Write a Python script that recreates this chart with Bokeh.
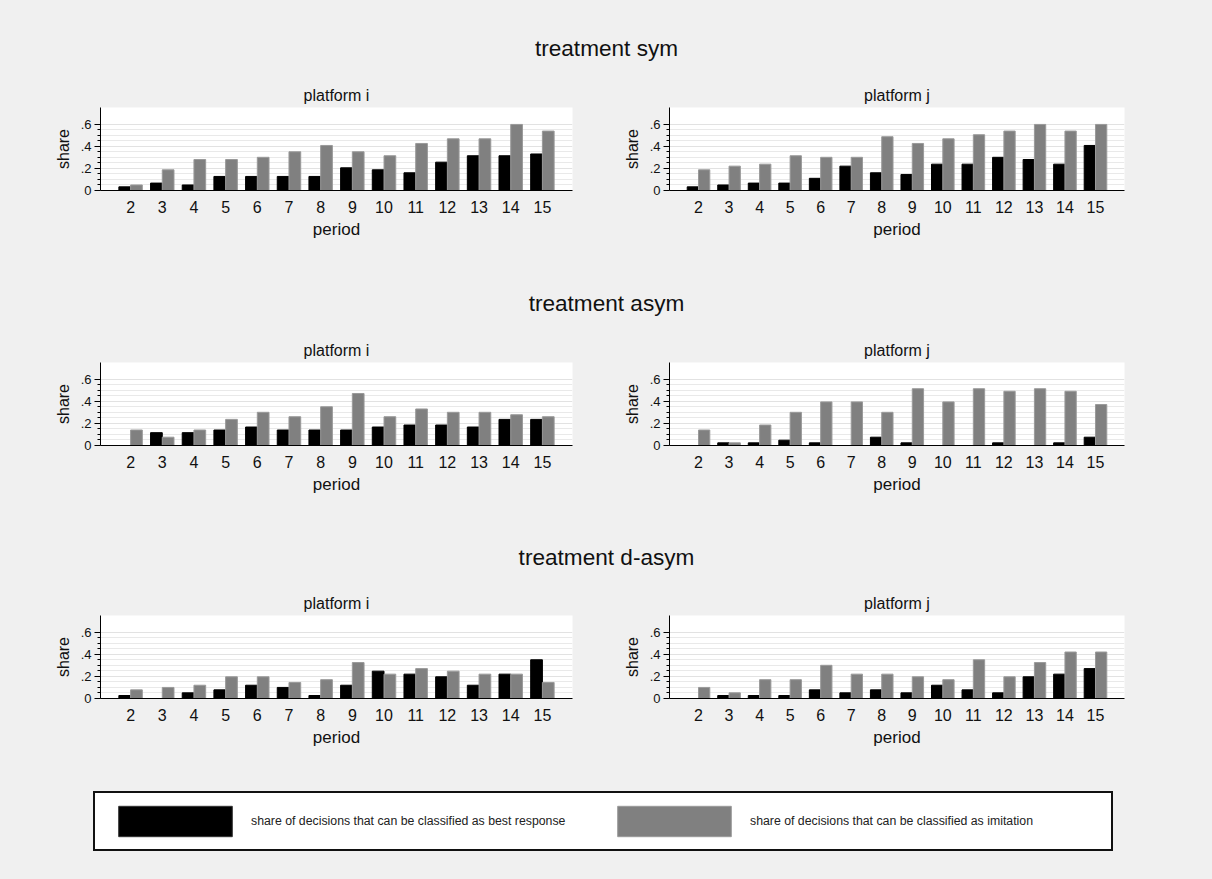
from bokeh.plotting import figure
from bokeh.layouts import column, row
from bokeh.models import (ColumnDataSource, FixedTicker, CustomJSTickFormatter, Range1d,
                          Label, Legend, LegendItem)
from bokeh.transform import dodge
from bokeh.embed import file_html
from bokeh.resources import INLINE

# ---------------- data ----------------
periods = list(range(2, 16))

sym_i_best = [0.033, 0.067, 0.05, 0.127, 0.127, 0.127, 0.127, 0.205, 0.187, 0.16, 0.256, 0.314, 0.314, 0.33]
sym_i_imit = [0.05, 0.187, 0.28, 0.28, 0.30, 0.35, 0.407, 0.35, 0.314, 0.425, 0.467, 0.467, 0.597, 0.537]
sym_j_best = [0.033, 0.05, 0.067, 0.067, 0.11, 0.22, 0.16, 0.145, 0.238, 0.238, 0.30, 0.28, 0.238, 0.407]
sym_j_imit = [0.187, 0.22, 0.238, 0.314, 0.30, 0.30, 0.486, 0.425, 0.467, 0.504, 0.537, 0.597, 0.537, 0.597]

asym_i_best = [0, 0.116, 0.116, 0.14, 0.167, 0.14, 0.14, 0.14, 0.167, 0.185, 0.185, 0.167, 0.236, 0.236]
asym_i_imit = [0.14, 0.075, 0.14, 0.236, 0.30, 0.26, 0.35, 0.47, 0.26, 0.33, 0.30, 0.30, 0.278, 0.26]
asym_j_best = [0, 0.024, 0.024, 0.048, 0.024, 0, 0.075, 0.024, 0, 0, 0.024, 0, 0.024, 0.075]
asym_j_imit = [0.14, 0.024, 0.185, 0.30, 0.394, 0.394, 0.30, 0.513, 0.394, 0.513, 0.49, 0.513, 0.49, 0.37]

dasym_i_best = [0.027, 0, 0.051, 0.078, 0.12, 0.10, 0.027, 0.12, 0.247, 0.22, 0.196, 0.12, 0.22, 0.35]
dasym_i_imit = [0.078, 0.10, 0.12, 0.196, 0.196, 0.145, 0.17, 0.325, 0.22, 0.27, 0.247, 0.22, 0.22, 0.145]
dasym_j_best = [0, 0.027, 0.027, 0.027, 0.078, 0.051, 0.078, 0.051, 0.12, 0.078, 0.051, 0.196, 0.22, 0.27]
dasym_j_imit = [0.10, 0.051, 0.17, 0.17, 0.30, 0.22, 0.22, 0.196, 0.17, 0.35, 0.196, 0.325, 0.42, 0.42]

treatments = ["treatment sym", "treatment asym", "treatment d-asym"]
platforms = ["platform i", "platform j"]
series_labels = ["share of decisions that can be classified as best response",
                 "share of decisions that can be classified as imitation"]

y_ticks = [0, 0.2, 0.4, 0.6]
y_minor = [0.05, 0.1, 0.15, 0.25, 0.3, 0.35, 0.45, 0.5, 0.55]

# ---------------- style ----------------
BG = "#f0f0f0"
FONT = "Liberation Sans"
BLACK = "#000000"
GRAY = "#808080"
TOTAL_W = 1212
BGSTYLE = {"background-color": BG}


def panel(title, best, imit, left_b, frame_w, right_b):
    src = ColumnDataSource(dict(period=periods, best=best, imit=imit))
    p = figure(frame_width=frame_w, frame_height=83,
               min_border_left=left_b, min_border_right=right_b,
               min_border_top=27, min_border_bottom=60,
               x_range=Range1d(1.05, 15.95), y_range=Range1d(0, 0.75),
               output_backend="svg", toolbar_location=None, title=title)
    p.vbar(x=dodge("period", -0.185, range=p.x_range), top="best", width=0.37,
           source=src, fill_color=BLACK, line_color=BLACK, line_width=1)
    p.vbar(x=dodge("period", 0.185, range=p.x_range), top="imit", width=0.37,
           source=src, fill_color=GRAY, line_color="#9a9a9a", line_width=1)
    p.background_fill_color = "white"
    p.border_fill_color = BG
    p.outline_line_color = None

    p.title.align = "center"
    p.title.text_font = FONT
    p.title.text_font_size = "16px"
    p.title.text_font_style = "normal"
    p.title.text_color = "#111111"
    p.title.standoff = 7

    p.xgrid.visible = False
    p.ygrid.grid_line_color = "#e2e2e2"
    p.ygrid.minor_grid_line_color = "#e9e9e9"

    xa = p.xaxis[0]
    xa.ticker = FixedTicker(ticks=periods)
    xa.axis_line_color = BLACK
    xa.major_tick_out = 0
    xa.major_tick_in = 0
    xa.minor_tick_out = 0
    xa.minor_tick_in = 0
    xa.major_label_standoff = 10
    xa.major_label_text_font = FONT
    xa.major_label_text_font_size = "16px"
    xa.major_label_text_color = "#111111"
    xa.axis_label = "period"
    xa.axis_label_text_font = FONT
    xa.axis_label_text_font_size = "17px"
    xa.axis_label_text_font_style = "normal"
    xa.axis_label_text_color = "#111111"
    xa.axis_label_standoff = 4

    ya = p.yaxis[0]
    ya.ticker = FixedTicker(ticks=y_ticks, minor_ticks=y_minor)
    ya.formatter = CustomJSTickFormatter(
        code="return tick == 0 ? '0' : tick.toFixed(1).replace(/^0/, '');")
    ya.axis_line_color = BLACK
    ya.major_tick_out = 6
    ya.major_tick_in = 0
    ya.minor_tick_out = 3
    ya.minor_tick_in = 0
    ya.major_label_standoff = 3
    ya.major_label_orientation = "horizontal"
    ya.major_label_text_font = FONT
    ya.major_label_text_font_size = "13px"
    ya.major_label_text_color = "#111111"
    ya.axis_label = "share"
    ya.axis_label_text_font = FONT
    ya.axis_label_text_font_size = "16px"
    ya.axis_label_text_font_style = "normal"
    ya.axis_label_text_color = "#111111"
    ya.axis_label_standoff = 6
    return p


def title_fig(text, h, y_from_bottom):
    f = figure(width=TOTAL_W, height=h, min_border=0, output_backend="svg",
               toolbar_location=None, x_range=Range1d(0, 1), y_range=Range1d(0, 1))
    f.axis.visible = False
    f.grid.visible = False
    f.outline_line_color = None
    f.background_fill_color = BG
    f.border_fill_color = BG
    f.add_layout(Label(x=TOTAL_W / 2, y=y_from_bottom, x_units="screen", y_units="screen",
                       text=text, text_align="center", text_baseline="middle",
                       text_font=FONT, text_font_size="22.6px", text_color="#111111"))
    return f


def panel_row(title_i, title_j, bi, ii, bj, ij):
    pi = panel(title_i, bi, ii, 100, 472, 48)
    pj = panel(title_j, bj, ij, 49, 455, 88)
    return row(pi, pj, spacing=0, styles=BGSTYLE)


t1 = title_fig(treatments[0], 80, 32)
r1 = panel_row(platforms[0], platforms[1], sym_i_best, sym_i_imit, sym_j_best, sym_j_imit)
t2 = title_fig(treatments[1], 85, 32)
r2 = panel_row(platforms[0], platforms[1], asym_i_best, asym_i_imit, asym_j_best, asym_j_imit)
t3 = title_fig(treatments[2], 83, 31)
r3 = panel_row(platforms[0], platforms[1], dasym_i_best, dasym_i_imit, dasym_j_best, dasym_j_imit)

# legend figure (legend swatches come from two renderers kept outside the visible range)
lf = figure(width=TOTAL_W, height=121, min_border=0, output_backend="svg",
            toolbar_location=None, x_range=Range1d(10, 11), y_range=Range1d(10, 11))
lf.axis.visible = False
lf.grid.visible = False
lf.outline_line_color = None
lf.background_fill_color = BG
lf.border_fill_color = BG
swatch = ColumnDataSource(dict(x=[0], top=[0]))
rb = lf.vbar(x="x", top="top", width=0.1, source=swatch, fill_color=BLACK, line_color="#333333")
rg = lf.vbar(x="x", top="top", width=0.1, source=swatch, fill_color=GRAY, line_color="#9a9a9a")
leg = Legend(items=[LegendItem(label=series_labels[0], renderers=[rb]),
                    LegendItem(label=series_labels[1], renderers=[rg])],
             orientation="horizontal", location=(93, 28),
             glyph_width=142, glyph_height=38, label_standoff=5, label_width=352,
             spacing=0, padding=9, margin=0,
             border_line_color="#111111", border_line_width=2, border_line_alpha=1.0,
             background_fill_color="white", background_fill_alpha=1.0,
             label_text_font=FONT, label_text_font_size="12.3px", label_text_color="#222222")
lf.add_layout(leg, "center")

p = column(t1, r1, t2, r2, t3, r3, lf, spacing=0, styles=BGSTYLE)

open("out.html", "w").write(file_html(p, INLINE))
